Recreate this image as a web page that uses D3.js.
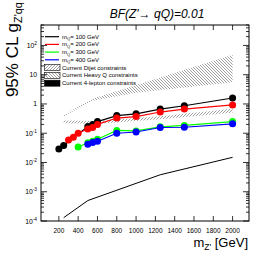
<!DOCTYPE html>
<html><head><meta charset="utf-8">
<script src="https://cdn.jsdelivr.net/npm/d3@7"></script>
<style>body{margin:0;background:#fff}svg{display:block}text{font-family:"Liberation Sans",Arial,sans-serif}</style>
</head><body><svg id="c" width="277" height="260"></svg>
<script>
const title = "BF(Z'\u2192 qQ)=0.01";
const xTicks = [200,400,600,800,1000,1200,1400,1600,1800,2000];
const yDecades = [1e-4,1e-3,1e-2,1e-1,1,10,100];
const yLabels = [["10","-4"],["10","-3"],["10","-2"],["10","-1"],["1",""],["10",""],["10","2"]];

const m100 = [200,250,500,550,600,800,1000,1250,1500,2000];
const g100 = [0.029,0.038,0.17,0.20,0.25,0.40,0.46,0.67,0.87,1.6];
const m200 = [300,350,400,500,550,600,800,1000,1250,1500,2000];
const g200 = [0.059,0.073,0.10,0.14,0.157,0.20,0.33,0.37,0.53,0.67,0.93];
const m300 = [400,500,550,600,800,1000,1250,1500,2000];
const g300 = [0.034,0.047,0.053,0.062,0.125,0.12,0.165,0.185,0.25];
const m400 = [500,550,600,800,1000,1250,1500,2000];
const g400 = [0.042,0.048,0.053,0.10,0.11,0.157,0.16,0.21];

const m4l = [250,500,1250,2000];
const g4l = [1.3e-4,5e-4,3.8e-3,0.015];

const heavyUpM = [250,550,2000];
const heavyUp = [0.42,1.5,48];
const heavyLoM = [250,550,1000,2000];
const heavyLo = [0.38,1.3,2.4,5.5];

const dijetUpM = [250,600,1250,2000];
const dijetUp = [0.27,0.26,0.38,0.68];
const dijetLoM = [250,600,1250,2000];
const dijetLo = [0.22,0.21,0.30,0.50];

const seriesNames = ["100","200","300","400"];
const seriesColors = ["#000000","#ff0000","#00ff00","#0000ff"];

const svg = d3.select("#c");
const L=41,R=249,T=25,B=221;
const x = d3.scaleLinear().domain([15,2170]).range([L,R]);
const y = d3.scaleLog().domain([1e-4,500]).range([B,T]);

const defs = svg.append("defs");
function hatch(id, dir){
  const p = defs.append("pattern").attr("id",id).attr("patternUnits","userSpaceOnUse")
    .attr("width",3).attr("height",3);
  if(dir>0) p.append("path").attr("d","M-1,1 l2,-2 M0,3 l3,-3 M2,4 l2,-2");
  else p.append("path").attr("d","M-1,2 l2,2 M0,0 l3,3 M2,-1 l2,2");
  p.select("path").attr("stroke","#777").attr("stroke-width",0.7);
}
hatch("hDij",1); hatch("hHQ",-1);

// bands
function band(upM,up,loM,lo,fill){
  const pts = upM.map((m,i)=>[x(m),y(up[i])]).concat(loM.map((m,i)=>[x(m),y(lo[i])]).reverse());
  svg.append("path").attr("d",d3.line()(pts)+"Z").attr("fill",fill).attr("stroke","none");
}
band(heavyUpM,heavyUp,heavyLoM,heavyLo,"url(#hHQ)");
band(dijetUpM,dijetUp,dijetLoM,dijetLo,"url(#hDij)");

// 4-lepton line
svg.append("path").attr("d",d3.line().x((d,i)=>x(m4l[i])).y(d=>y(d))(g4l))
  .attr("fill","none").attr("stroke","#000").attr("stroke-width",1);

// series
const ms=[m100,m200,m300,m400], gs=[g100,g200,g300,g400];
ms.forEach((mm,k)=>{
  const g=gs[k];
  svg.append("path").attr("d",d3.line().x((d,i)=>x(mm[i])).y(d=>y(d))(g))
    .attr("fill","none").attr("stroke",seriesColors[k]).attr("stroke-width",1.2);
  svg.append("g").selectAll("circle").data(g).join("circle")
    .attr("cx",(d,i)=>x(mm[i])).attr("cy",d=>y(d)).attr("r",3.5).attr("fill",seriesColors[k]);
});

// frame
svg.append("rect").attr("x",L).attr("y",T).attr("width",R-L).attr("height",B-T)
  .attr("fill","none").attr("stroke","#000").attr("stroke-width",1);

// ticks
const tk = svg.append("g").attr("stroke","#000").attr("stroke-width",0.8);
xTicks.forEach(v=>{
  tk.append("line").attr("x1",x(v)).attr("x2",x(v)).attr("y1",B).attr("y2",B-5);
  tk.append("line").attr("x1",x(v)).attr("x2",x(v)).attr("y1",T).attr("y2",T+5);
});
yDecades.forEach(dv=>{
  for(let k=1;k<10;k++){
    const v=dv*k; if(v>500) break;
    const len = k===1?6:3;
    tk.append("line").attr("x1",L).attr("x2",L+len).attr("y1",y(v)).attr("y2",y(v));
    tk.append("line").attr("x1",R).attr("x2",R-len).attr("y1",y(v)).attr("y2",y(v));
  }
});
svg.append("g").selectAll("text").data(xTicks).join("text")
  .attr("x",d=>x(d)).attr("y",233).attr("text-anchor","middle").attr("font-size",6.5).text(d=>d);
yDecades.forEach((dv,i)=>{
  const t=svg.append("text").attr("x",37).attr("y",y(dv)+2.5).attr("text-anchor","end").attr("font-size",6.8);
  t.append("tspan").text(yLabels[i][0]);
  if(yLabels[i][1]) t.append("tspan").attr("dy",-3).attr("font-size",4.8).text(yLabels[i][1]);
});

// titles
svg.append("text").attr("x",157).attr("y",18).attr("text-anchor","middle").attr("font-size",12)
  .attr("font-style","italic").text(title);
const xt = svg.append("text").attr("x",248).attr("y",247).attr("text-anchor","end").attr("font-size",13);
xt.append("tspan").text("m");
xt.append("tspan").attr("font-size",8.5).attr("dy",3).text("Z'");
xt.append("tspan").attr("dy",-3).text(" [GeV]");
const yt = svg.append("text").attr("transform","translate(18,2) rotate(-90)").attr("text-anchor","end").attr("font-size",17);
yt.append("tspan").text("95% CL g");
yt.append("tspan").attr("font-size",11).attr("dy",4).text("Z'qq");

// legend
const lg = svg.append("g");
const rowY = [36.7,44.4,52.1,59.8,67.6,75.4,83.2];
seriesNames.forEach((n,i)=>{
  lg.append("line").attr("x1",45).attr("x2",59).attr("y1",rowY[i]).attr("y2",rowY[i])
    .attr("stroke",seriesColors[i]).attr("stroke-width",1.2);
  const t=lg.append("text").attr("x",62).attr("y",rowY[i]+2).attr("font-size",6);
  t.append("tspan").text("m");
  t.append("tspan").attr("font-size",4.2).attr("dy",1.5).text("Q");
  t.append("tspan").attr("dy",-1.5).text("= "+n+" GeV");
});
const boxes=[["url(#hDij)","Current Dijet constraints"],["url(#hHQ)","Current Heavy Q constraints"],["#000","Current 4-lepton constraints"]];
boxes.forEach((b,j)=>{
  const yy=rowY[4+j];
  lg.append("rect").attr("x",44.5).attr("y",yy-3).attr("width",15.5).attr("height",6)
    .attr("fill",b[0]).attr("stroke","#000").attr("stroke-width",0.6);
  lg.append("text").attr("x",62).attr("y",yy+2).attr("font-size",6).text(b[1]);
});
</script></body></html>
